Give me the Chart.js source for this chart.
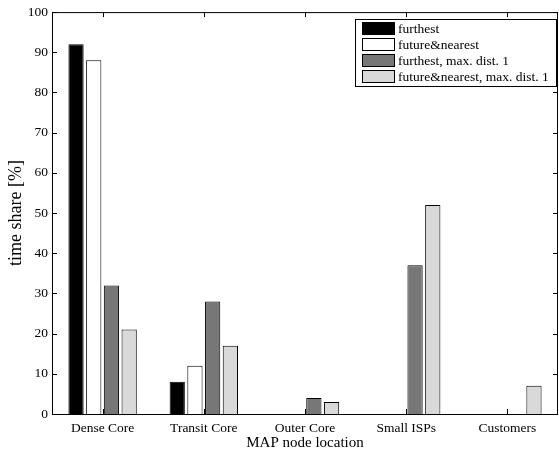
<!DOCTYPE html>
<html>
<head>
<meta charset="utf-8">
<script src="https://cdn.jsdelivr.net/npm/chart.js@4/dist/chart.umd.min.js"></script>
<style>
  html, body { margin: 0; padding: 0; background: #fff; }
</style>
</head>
<body>
<canvas id="timeShareChart" width="559" height="452"></canvas>
<script>
// categories and series
const locations = ['Dense Core', 'Transit Core', 'Outer Core', 'Small ISPs', 'Customers'];
const furthest = [92, 8, 0, 0, 0];
const futureNearest = [88, 12, 0, 0, 0];
const furthestMaxDist1 = [32, 28, 4, 37, 0];
const futureNearestMaxDist1 = [21, 17, 3, 52, 7];
const yTickValues = [0, 10, 20, 30, 40, 50, 60, 70, 80, 90, 100];

const serif = 'Liberation Serif, Times New Roman, serif';

// matlab-like frame: full box, inward ticks, legend box in top right corner
const matlabFrame = {
  id: 'matlabFrame',
  afterDraw(chart) {
    const ctx = chart.ctx;
    const area = chart.chartArea;
    const xs = chart.scales.x;
    const ys = chart.scales.y;
    const tick = 5;
    ctx.save();
    ctx.strokeStyle = '#000';
    ctx.lineWidth = 1;
    ctx.strokeRect(area.left + 0.5, area.top + 0.5, area.right - area.left - 1, area.bottom - area.top);

    ctx.beginPath();
    for (let i = 0; i < locations.length; i++) {
      const x = Math.round(xs.getPixelForTick(i)) + 0.5;
      ctx.moveTo(x, area.bottom);
      ctx.lineTo(x, area.bottom - tick);
      ctx.moveTo(x, area.top);
      ctx.lineTo(x, area.top + tick);
    }
    yTickValues.forEach(v => {
      const y = Math.round(ys.getPixelForValue(v)) + 0.5;
      ctx.moveTo(area.left, y);
      ctx.lineTo(area.left + tick, y);
      ctx.moveTo(area.right, y);
      ctx.lineTo(area.right - tick, y);
    });
    ctx.stroke();

    // legend
    const boxLeft = 355, boxTop = 19, boxW = 201, boxH = 67;
    ctx.fillStyle = '#fff';
    ctx.fillRect(boxLeft, boxTop, boxW, boxH);
    ctx.strokeRect(boxLeft + 0.5, boxTop + 0.5, boxW, boxH);
    ctx.font = '13.5px ' + serif;
    ctx.textBaseline = 'middle';
    chart.data.datasets.forEach((ds, i) => {
      const cy = boxTop + 9 + i * 16;
      ctx.fillStyle = ds.backgroundColor;
      ctx.fillRect(362, cy - 6, 32, 12);
      ctx.strokeRect(362.5, cy - 5.5, 32, 12);
      ctx.fillStyle = '#000';
      ctx.fillText(ds.label, 398, cy + 1);
    });
    ctx.restore();
  }
};

const ctx = document.getElementById('timeShareChart').getContext('2d');
new Chart(ctx, {
  type: 'bar',
  data: {
    labels: locations,
    datasets: [
      { label: 'furthest', data: furthest, backgroundColor: '#000000' },
      { label: 'future&nearest', data: futureNearest, backgroundColor: '#ffffff' },
      { label: 'furthest, max. dist. 1', data: furthestMaxDist1, backgroundColor: '#777777' },
      { label: 'future&nearest, max. dist. 1', data: futureNearestMaxDist1, backgroundColor: '#d9d9d9' }
    ]
  },
  options: {
    responsive: false,
    animation: false,
    devicePixelRatio: 1,
    layout: { padding: { top: 12, right: 1, left: 5, bottom: 0 } },
    datasets: {
      bar: {
        borderColor: '#000',
        borderWidth: 1,
        categoryPercentage: 0.7,
        barPercentage: 0.86
      }
    },
    plugins: {
      legend: { display: false },
      tooltip: { enabled: false }
    },
    scales: {
      x: {
        grid: { display: false, drawTicks: false },
        border: { display: false },
        ticks: { color: '#000', font: { family: serif, size: 13.5 }, padding: 6, maxRotation: 0 },
        title: { display: true, text: 'MAP node location', color: '#000', font: { family: serif, size: 15 }, padding: { top: 0, bottom: 0 } },
        afterFit(scale) { scale.height = 38; }
      },
      y: {
        min: 0,
        max: 100,
        grid: { display: false, drawTicks: false },
        border: { display: false },
        afterBuildTicks(scale) { scale.ticks = yTickValues.map(v => ({ value: v })); },
        ticks: { color: '#000', font: { family: serif, size: 13.5 }, padding: 4 },
        title: { display: true, text: 'time share [%]', color: '#000', font: { family: serif, size: 18 }, padding: { top: 0, bottom: 4 } },
        afterFit(scale) { scale.width = 47; }
      }
    }
  },
  plugins: [matlabFrame]
});
</script>
</body>
</html>
